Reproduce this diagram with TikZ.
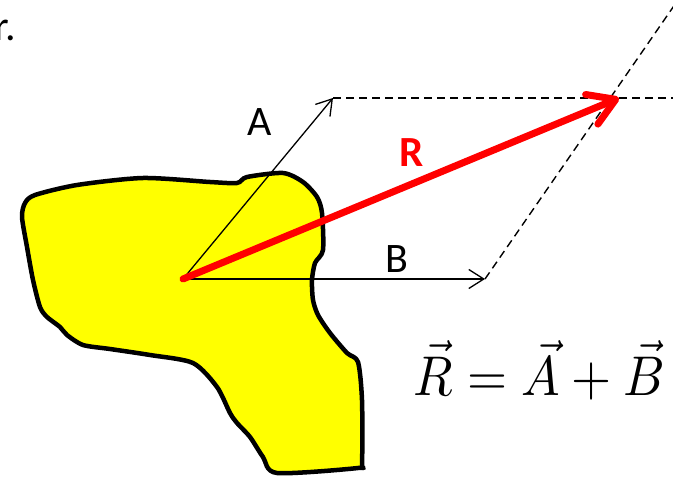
\documentclass[tikz,border=0pt]{standalone}
\usepackage{fontspec}
\setmainfont{Carlito}
\usetikzlibrary{arrows.meta}
\definecolor{blobyellow}{RGB}{255,255,0}
\definecolor{vred}{RGB}{255,0,0}
\begin{document}
\begin{tikzpicture}[x=1pt,y=-1pt,
  lbl/.style={font=\fontsize{42}{42}\selectfont, inner sep=0pt},
  vecarrow/.style={line width=1.3pt, -{Straight Barb[length=15pt,width=19pt]}},
  guide/.style={line width=1.4pt, dash pattern=on 8pt off 5pt},
  blob/.style={fill=blobyellow, draw=black, line width=4.5pt, line join=round},
  resarrow/.style={vred, line width=7pt, line cap=round, -{Straight Barb[length=26pt,width=32pt,round]}}]
\useasboundingbox (0,0) rectangle (673,479);
\clip (0,0) rectangle (673,479);
% body
\draw[blob] plot[smooth cycle, tension=0.45] coordinates {
 (25,203) (35,195) (77,185) (143,178) (210,182) (237,183) (247,177) (283,173)
 (303,182) (317,197) (322,213) (323,250) (315,263) (312,280) (313,300) (318,315)
 (330,333) (347,353) (358,362) (362,400) (362,463) (358,468) (277,473)
 (263,457) (250,437) (237,423) (230,413) (217,387) (193,363) (150,355)
 (110,349) (83,345) (67,335) (60,327) (47,317) (40,307) (33,280) (27,247) (22,217)};
% points
\coordinate (O) at (183,279);
\coordinate (Atip) at (333,98);
\coordinate (Btip) at (485,279);
\coordinate (Rtip) at (619,98);
\coordinate (Hend) at (680,98);
\coordinate (Dend) at (678,0);
% guides
\draw[guide] (Atip) -- (Hend);
\draw[guide] (Btip) -- (Dend);
% vectors
\draw[vecarrow] (O) -- (Atip);
\draw[vecarrow] (O) -- (Btip);
\draw[resarrow] (O) -- (Rtip);
% labels
\node[lbl] (la) at (260,122) {A};
\node[lbl] (lb) at (397,259) {B};
\node[lbl, text=vred, font=\fontsize{43}{43}\selectfont\bfseries] (lr) at (412,153) {R};
\node[lbl, anchor=base east] (lcut) at (16,40) {r.};
\node[inner sep=0pt, anchor=base] (eq) at (539,395) {\scalebox{5.15}[5.6]{$\vec R=\vec A+\vec B$}};
\end{tikzpicture}
\end{document}
